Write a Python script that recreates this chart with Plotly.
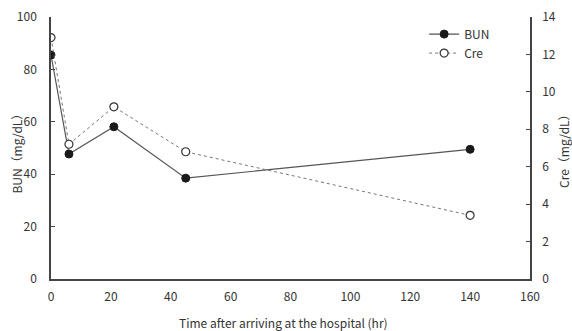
import plotly.graph_objects as go

time_hr = [0, 6, 21, 45, 140]
bun_mg_dl = [85.5, 47.7, 58.1, 38.5, 49.5]
cre_mg_dl = [12.9, 7.2, 9.2, 6.8, 3.4]

x_title = "Time after arriving at the hospital (hr)"
y1_title = "BUN（mg/dL）"
y2_title = "Cre（mg/dL）"

FONT = "Noto Sans CJK JP"
TXT = "#333333"

fig = go.Figure()
fig.add_trace(go.Scatter(
    x=time_hr, y=bun_mg_dl, name="BUN", mode="lines+markers",
    line=dict(color="#555555", width=1.2),
    marker=dict(symbol="circle", size=8, color="#1a1a1a", line=dict(color="#1a1a1a", width=1)),
))
fig.add_trace(go.Scatter(
    x=time_hr, y=cre_mg_dl, name="Cre", mode="lines+markers", yaxis="y2",
    line=dict(color="#777777", width=1, dash="dot"),
    marker=dict(symbol="circle", size=8, color="white", line=dict(color="#333333", width=1.2)),
))

axis_common = dict(showgrid=False, zeroline=False, showline=True, linecolor="#444444", linewidth=1.5,
                   automargin=False, tickfont=dict(family=FONT, size=12, color=TXT))

fig.update_layout(
    width=572, height=331,
    margin=dict(l=51, r=42, t=17, b=52, autoexpand=False),
    paper_bgcolor="white", plot_bgcolor="white",
    font=dict(family=FONT, size=12, color=TXT),
    showlegend=True,
    legend=dict(x=0.779, y=0.99, xanchor="left", yanchor="top", bgcolor="rgba(0,0,0,0)",
                font=dict(family=FONT, size=12, color=TXT), tracegroupgap=0, itemwidth=30),
    xaxis=dict(range=[0, 160], dtick=20, ticks="", ticklen=0, ticklabelstandoff=6, **axis_common),
    yaxis=dict(range=[0, 100], dtick=20, ticks="inside", ticklen=4, tickcolor="#444444",
               ticklabelstandoff=10, **axis_common),
    yaxis2=dict(range=[0, 14], dtick=2, ticks="inside", ticklen=4, tickcolor="#444444",
                overlaying="y", side="right", anchor="x", ticklabelstandoff=8, **axis_common),
    annotations=[
        dict(text=x_title, xref="paper", yref="paper", x=0.485, y=-0.165, xanchor="center", yanchor="middle",
             showarrow=False, font=dict(family=FONT, size=12, color=TXT)),
        dict(text=y1_title, xref="paper", yref="paper", x=-34 / 479, y=0.49, xanchor="center", yanchor="middle",
             textangle=-90, showarrow=False, font=dict(family=FONT, size=12, color=TXT)),
        dict(text=y2_title, xref="paper", yref="paper", x=1 + 33 / 479, y=0.5, xanchor="center", yanchor="middle",
             textangle=-90, showarrow=False, font=dict(family=FONT, size=12, color=TXT)),
    ],
)

fig.write_html("out.html", config={"displayModeBar": False})

with open("out.html", "r", encoding="utf-8") as f:
    html = f.read()
html = html.replace("<body>", '<body style="margin:0;padding:0;">', 1)
with open("out.html", "w", encoding="utf-8") as f:
    f.write(html)
